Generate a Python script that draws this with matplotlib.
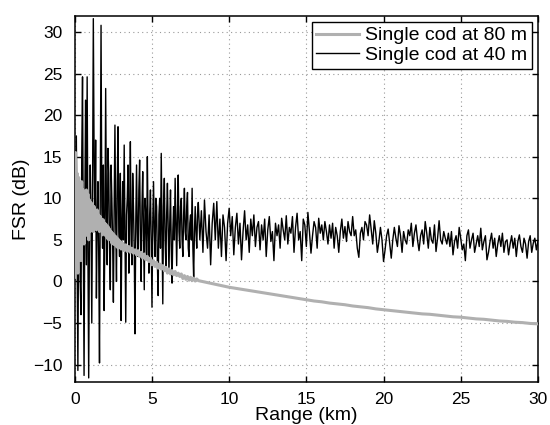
import numpy as np
import matplotlib
matplotlib.use('Agg')
import matplotlib.pyplot as plt

plt.rcParams['font.family'] = ['Liberation Sans', 'DejaVu Sans']

# FSR for cod at 40 m, near range 0..8 km step 0.05 km
fsr_40_near = [
    2, 10, 17.5, 3, -10.7, 8, 12, 0, -4, 15,
    24.6, 5, -11.3, 9, 21.8, 2, 24.6, 4, -11.6, 6,
    14, 8, -5, 11, 31.6, 15, 6, 17, -2, 7,
    12, 3, -9.8, 12, 30.8, 9, 4, 14, -3.5, 6,
    23.2, 8, 2, 16, 13, 4, -1, 14, 10, 5,
    -2.5, 9, 18.8, 7, 0, 12, 18.6, 6, 3, 13,
    -4.7, 7, 12, 5, 16.4, 6, -4.9, 8, 10, 14,
    1, 8, 16.8, 5, 2, 13, 9, 4, -6.3, 7,
    14, 6, 3, 11, 14.6, 5, 0, 9, 13.2, 6,
    -1, 10, 8, 3, 15, 6, 1, 8, 11, 5,
    -3.1, 7, 12, 6, 3, 10, 9, 2, -1.7, 8,
    10, 4, 15.4, 6, -2.7, 9, 12.4, 5, 1.7, 8,
    11.8, 6, 1.0, 7, 11, 4, -0.2, 6, 9, 5,
    12.4, 7, 1.9, 8, 12.8, 6, 4, 9, 10, 5,
    3, 8, 11.2, 6, 5, 9, 10.7, 4, 3, 7,
    8, 5, 11.2, 4, 0.4, 6, 9, 6, 4, 8,
    9.5,
]
# far range 8.1..30 km step 0.1 km
fsr_40_far = [
    5, 8.5, 3.5, 9.8, 6, 4, 8, 2, 7, 9.4, 5, 9.6, 4, 7.5, 3, 8, 6.5, 2.5, 7, 8.8,
    5.5, 7.8, 3.2, 6.5, 8.2, 4.5, 7, 2.6, 6, 8.5, 5, 6.8, 3.5, 7.5, 5.5, 8, 4.2, 6.5, 7.2, 3.8,
    6.8, 5, 7.5, 3, 6.2, 7.8, 4.8, 6, 2.5, 7, 5.5, 6.8, 4, 7.6, 6.2, 5, 7.9, 4.5, 6.5, 5.8,
    7.8, 3.5, 6.5, 8.2, 5, 6, 2.5, 7.5, 6.8, 4.2, 8.3, 6, 3.4, 5.5, 7.2, 6.5, 4, 7.6, 5.8, 6.8,
    5, 7.2, 6, 4.5, 6.8, 5.2, 7, 4, 6.5, 5.5, 3.5, 6, 7.5, 5.2, 6.6, 4.8, 7.2, 6, 5.5, 7.8,
    5.5, 6.2, 4, 2.9, 5.8, 6.5, 5, 7.2, 6.8, 5.5, 8, 6.2, 4.5, 7.3, 5.8, 3.5, 4.8, 6.5, 5, 2.4,
    3.8, 5.5, 6.3, 4.5, 2.8, 5, 6.5, 5.2, 4.2, 6.7, 5.5, 3.5, 6, 5, 4.5, 6.2, 5.5, 7, 4.2, 5.8,
    6.8, 5, 3.7, 5.5, 6.2, 4.5, 7.2, 5.8, 4, 6.5, 5, 4.6, 6.8, 3.6, 5.2, 7.3, 5, 4.5, 6, 5.2,
    4.5, 5.8, 4.2, 6, 3.2, 4.8, 5.5, 4, 6.5, 5.2, 3.8, 4.5, 2.5, 5.5, 6.2, 4, 5, 5.8, 3.5, 4.5,
    5.5, 4.2, 6.4, 3.8, 4.8, 5.5, 2.6, 3.5, 4.8, 5.8, 4, 5.2, 3, 4.5, 5.5, 4.2, 5.8, 3.5, 4.8, 5,
    3.2, 4.5, 5.5, 4, 5.2, 3, 4.8, 5.6, 4.2, 3.5, 5.2, 4.5, 2.8, 4.8, 5.5, 3.5, 4.6, 5.2, 3.8, 4.8,
]
range_40 = np.concatenate([np.linspace(0, 8, len(fsr_40_near)),
                           np.linspace(8.1, 30, len(fsr_40_far))])
fsr_40 = fsr_40_near + fsr_40_far

# FSR for cod at 80 m: 0..2.95 step 0.05, 3..7.9 step 0.1, 8..30 step 0.5
fsr_80_near = [
    0.5, 15.5, 3, 13, 1, 12.5, 4, 11.5, 2.5, 12,
    5, 11, 4.5, 10.5, 5.5, 11, 6, 10.5, 5, 9.8,
    6, 9.5, 6.5, 9.2, 6, 9, 6.8, 8.5, 6.2, 8.6,
    6.5, 8, 6, 7.8, 6.3, 7.5, 5.6, 7.4, 5.8, 7,
    5.5, 6.8, 5.2, 6.6, 5, 6.3, 5.2, 6, 4.6, 5.8,
    4.5, 5.6, 4.4, 5.4, 4.2, 5.2, 4, 5, 4.1, 4.8,
]
fsr_80_mid = [
    3.9, 4.6, 3.7, 4.4, 3.6, 4.2, 3.5, 4.0, 3.4, 3.8,
    3.2, 3.7, 3.0, 3.5, 2.8, 3.3, 2.6, 3.0, 2.4, 2.8,
    2.0, 2.5, 1.8, 2.3, 1.6, 2.1, 1.5, 1.9, 1.3, 1.7,
    1.0, 1.5, 0.9, 1.3, 0.8, 1.2, 0.7, 1.0, 0.6, 0.9,
    0.35, 0.7, 0.25, 0.6, 0.15, 0.5, 0.1, 0.4, 0.05, 0.3,
]
fsr_80_far = [
    0.1, -0.1, -0.3, -0.5, -0.7, -0.85, -1.0, -1.15, -1.3, -1.45,
    -1.6, -1.75, -1.9, -2.05, -2.2, -2.35, -2.45, -2.6, -2.7, -2.8,
    -2.95, -3.05, -3.15, -3.3, -3.4, -3.5, -3.6, -3.7, -3.8, -3.9,
    -3.95, -4.05, -4.15, -4.25, -4.3, -4.4, -4.5, -4.55, -4.65, -4.75,
    -4.8, -4.9, -4.95, -5.05, -5.1,
]
range_80 = np.concatenate([np.linspace(0, 2.95, len(fsr_80_near)),
                           np.linspace(3, 7.9, len(fsr_80_mid)),
                           np.linspace(8, 30, len(fsr_80_far))])
fsr_80 = fsr_80_near + fsr_80_mid + fsr_80_far

fig = plt.figure(figsize=(5.5, 4.25), dpi=100)
ax = fig.add_axes([0.136, 0.101, 0.842, 0.861])

l40, = ax.plot(range_40, fsr_40, color='black', lw=1.0, label='Single cod at 40 m', zorder=2)
l80, = ax.plot(range_80, fsr_80, color='#b0b0b0', lw=2.2, label='Single cod at 80 m', zorder=3)

ax.set_xlim(0, 30)
ax.set_ylim(-12.1, 31.9)
ax.set_xticks(range(0, 31, 5))
ax.set_yticks(range(-10, 31, 5))
ax.set_xticklabels([str(v) for v in range(0, 31, 5)])
ax.set_yticklabels([str(v).replace('-', '\u2212') for v in range(-10, 31, 5)])
ax.grid(True, linestyle=(0, (1, 3)), color='#999999', lw=0.8)
ax.tick_params(direction='in', top=True, right=True, length=4, width=1, labelsize=12.5)
ax.tick_params(axis='x', pad=7)
ax.tick_params(axis='y', pad=9)
for s in ax.spines.values():
    s.set_linewidth(1.1)

ax.set_xlabel('Range (km)', fontsize=14, labelpad=0)
ax.set_ylabel('FSR (dB)', fontsize=14, labelpad=2)

leg = ax.legend(handles=[l80, l40], loc='upper right', fontsize=14, fancybox=False,
                framealpha=1, edgecolor='black', handlelength=2.2, borderpad=0.25,
                labelspacing=0.1, handletextpad=0.3, borderaxespad=0.3)
leg.get_frame().set_linewidth(1.0)

fig.savefig('out.png', dpi=100)
